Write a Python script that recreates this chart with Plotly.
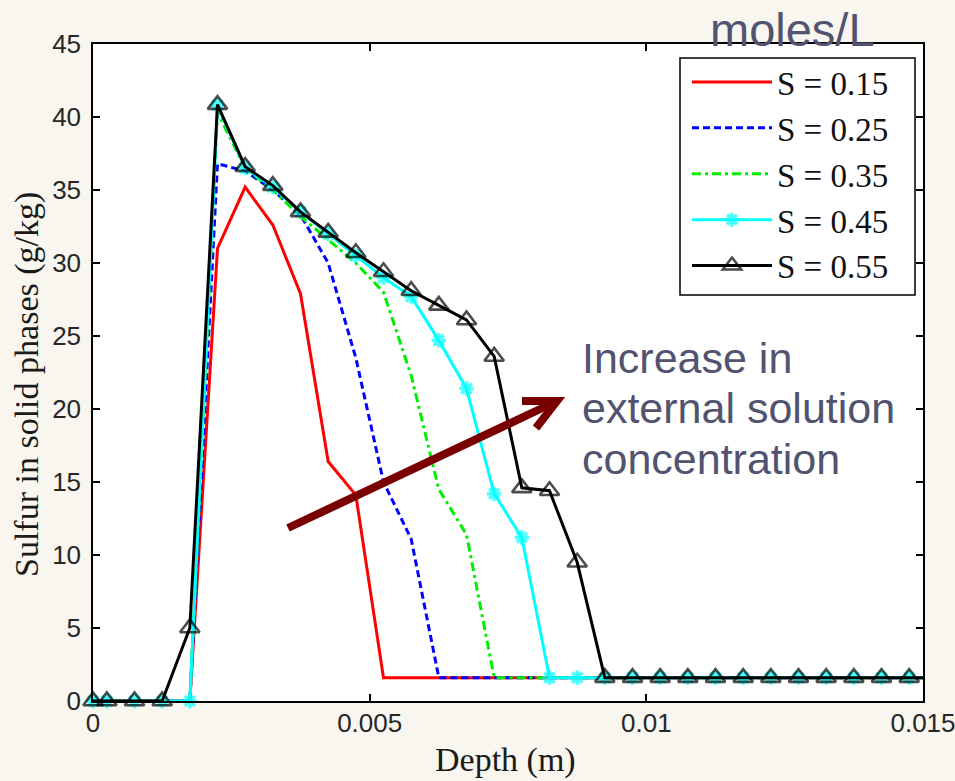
import plotly.graph_objects as go

# ---------------- data ----------------
depth = [0, 0.00025, 0.00075, 0.00125, 0.00175, 0.00225, 0.00275, 0.00325, 0.00375,
         0.00425, 0.00475, 0.00525, 0.00575, 0.00625, 0.00675, 0.00725, 0.00775,
         0.00825, 0.00875, 0.00925, 0.00975, 0.01025, 0.01075, 0.01125, 0.01175,
         0.01225, 0.01275, 0.01325, 0.01375, 0.01425, 0.01475, 0.015]

s015 = [0, 0, 0, 0, 0, 31.0, 35.2, 32.6, 27.9, 16.4, 14.1, 1.6, 1.6, 1.6, 1.6, 1.6,
        1.6, 1.6, 1.6, 1.6, 1.6, 1.6, 1.6, 1.6, 1.6, 1.6, 1.6, 1.6, 1.6, 1.6, 1.6, 1.6]
s025 = [0, 0, 0, 0, 0, 36.8, 36.3, 35.0, 33.3, 30.0, 23.5, 15.0, 11.1, 1.6, 1.6, 1.6,
        1.6, 1.6, 1.6, 1.6, 1.6, 1.6, 1.6, 1.6, 1.6, 1.6, 1.6, 1.6, 1.6, 1.6, 1.6, 1.6]
s035 = [0, 0, 0, 0, 0, 40.3, 36.5, 35.0, 33.2, 31.6, 30.0, 28.0, 22.3, 14.5, 11.4, 1.6,
        1.6, 1.6, 1.6, 1.6, 1.6, 1.6, 1.6, 1.6, 1.6, 1.6, 1.6, 1.6, 1.6, 1.6, 1.6, 1.6]
s045 = [0, 0, 0, 0, 0, 40.8, 36.5, 35.2, 33.5, 32.0, 30.5, 29.0, 27.7, 24.7, 21.4, 14.2,
        11.2, 1.6, 1.6, 1.6, 1.6, 1.6, 1.6, 1.6, 1.6, 1.6, 1.6, 1.6, 1.6, 1.6, 1.6, 1.6]
s055 = [0, 0, 0, 0, 5.0, 40.85, 36.6, 35.3, 33.5, 32.1, 30.7, 29.4, 28.1, 27.1, 26.1, 23.6,
        14.6, 14.4, 9.5, 1.6, 1.6, 1.6, 1.6, 1.6, 1.6, 1.6, 1.6, 1.6, 1.6, 1.6, 1.6, 1.6]

series_names = ["S = 0.15", "S = 0.25", "S = 0.35", "S = 0.45", "S = 0.55"]
x_ticks = [0, 0.005, 0.01, 0.015]
x_tick_labels = ["0", "0.005", "0.01", "0.015"]
y_ticks = [0, 5, 10, 15, 20, 25, 30, 35, 40, 45]

# ---------------- layout geometry ----------------
W, H = 955, 781
L, R, T, B = 93, 32, 44, 80
PX0, PX1 = L, W - R
PY0, PY1 = T, H - B
BG = "#F8F6EE"
TXT = "#515370"
ARROW = "#7A0000"


def px(xp):
    return (xp - PX0) / (PX1 - PX0)


def py(yp):
    return (PY1 - yp) / (PY1 - PY0)


n = len(depth)
LW = 3
fig = go.Figure()

fig.add_trace(go.Scatter(x=depth, y=s015, name=series_names[0], mode="lines",
                         line=dict(color="#FF0000", width=LW)))
fig.add_trace(go.Scatter(x=depth, y=s025, name=series_names[1], mode="lines",
                         line=dict(color="#0000FF", width=LW, dash="7px,4px")))
fig.add_trace(go.Scatter(x=depth, y=s035, name=series_names[2], mode="lines",
                         line=dict(color="#00EE00", width=LW, dash="9px,4px,3px,4px")))
fig.add_trace(go.Scatter(x=depth, y=s045, name=series_names[3], mode="lines+markers",
                         line=dict(color="#00FFFF", width=LW),
                         marker=dict(symbol="asterisk-open", size=[12] * (n - 1) + [0],
                                     color="#00FFFF", line=dict(color="#00FFFF", width=3.5)),
                         cliponaxis=False))
fig.add_trace(go.Scatter(x=depth, y=s055, name=series_names[4], mode="lines+markers",
                         line=dict(color="#000000", width=LW),
                         marker=dict(symbol="triangle-up-open", size=[17] * (n - 1) + [0],
                                     color="#000000", line=dict(color="#000000", width=2.6)),
                         cliponaxis=False))

axis_common = dict(showgrid=False, zeroline=False, showline=True, linecolor="#000000",
                   linewidth=1.5, mirror="ticks", ticks="inside", ticklen=7,
                   tickcolor="#000000", tickwidth=1.5, ticklabeloverflow="allow",
                   automargin=False,
                   tickfont=dict(family="Liberation Sans, Arial", size=26, color="#262626"))

fig.update_xaxes(range=[0, 0.015], tickvals=x_ticks, ticktext=x_tick_labels,
                 ticklabelstandoff=-2, **axis_common)
fig.update_yaxes(range=[0, 45], tickvals=y_ticks, ticklabelstandoff=5, **axis_common)

annotations = [
    dict(text="Depth (m)", x=px(505), y=py(760), xref="paper", yref="paper",
         showarrow=False, xanchor="center", yanchor="middle",
         font=dict(family="Liberation Serif, Times New Roman", size=34, color="#1a1a1a")),
    dict(text="Sulfur in solid phases (g/kg)", x=px(27), y=py(385), xref="paper", yref="paper",
         showarrow=False, xanchor="center", yanchor="middle", textangle=-90,
         font=dict(family="Liberation Serif, Times New Roman", size=34, color="#1a1a1a")),
    dict(text="moles/L", x=px(792), y=py(29), xref="paper", yref="paper",
         showarrow=False, xanchor="center", yanchor="middle",
         font=dict(family="Liberation Sans, Arial", size=47, color=TXT)),
    dict(text="Increase in", x=px(580), y=py(358), xref="paper", yref="paper",
         showarrow=False, xanchor="left", yanchor="middle",
         font=dict(family="Liberation Sans, Arial", size=43, color=TXT)),
    dict(text="external solution", x=px(580), y=py(408), xref="paper", yref="paper",
         showarrow=False, xanchor="left", yanchor="middle",
         font=dict(family="Liberation Sans, Arial", size=43, color=TXT)),
    dict(text="concentration", x=px(580), y=py(459), xref="paper", yref="paper",
         showarrow=False, xanchor="left", yanchor="middle",
         font=dict(family="Liberation Sans, Arial", size=43, color=TXT)),
]

# arrow drawn as shapes (shaft + open chevron head), paper coordinates
tail = (288, 528)
tip = (557, 401)
arm1 = (522, 401)
arm2 = (536, 428)
shapes = [
    dict(type="rect", xref="paper", yref="paper", x0=px(680), x1=px(915), y0=py(295), y1=py(58),
         fillcolor="#FFFFFF", line=dict(color="#000000", width=1.5), layer="above"),
    dict(type="line", xref="paper", yref="paper", x0=px(tail[0]), y0=py(tail[1]),
         x1=px(tip[0] - 3), y1=py(tip[1] + 1.5), line=dict(color=ARROW, width=8), layer="above"),
    dict(type="path", xref="paper", yref="paper",
         path="M {:.5f},{:.5f} L {:.5f},{:.5f} L {:.5f},{:.5f}".format(
             px(arm1[0]), py(arm1[1]), px(tip[0]), py(tip[1]), px(arm2[0]), py(arm2[1])),
         line=dict(color=ARROW, width=8), layer="above"),
]

fig.update_layout(
    width=W, height=H,
    margin=dict(l=L, r=R, t=T, b=B, autoexpand=False),
    paper_bgcolor=BG, plot_bgcolor="#FFFFFF",
    showlegend=True,
    legend=dict(x=px(687), y=py(54), xanchor="left", yanchor="top",
                bgcolor="rgba(0,0,0,0)", borderwidth=0,
                font=dict(family="Liberation Serif, Times New Roman", size=33, color="#111111"),
                itemwidth=80, tracegroupgap=0),
    annotations=annotations,
    shapes=shapes,
)

fig.write_html("out.html")
